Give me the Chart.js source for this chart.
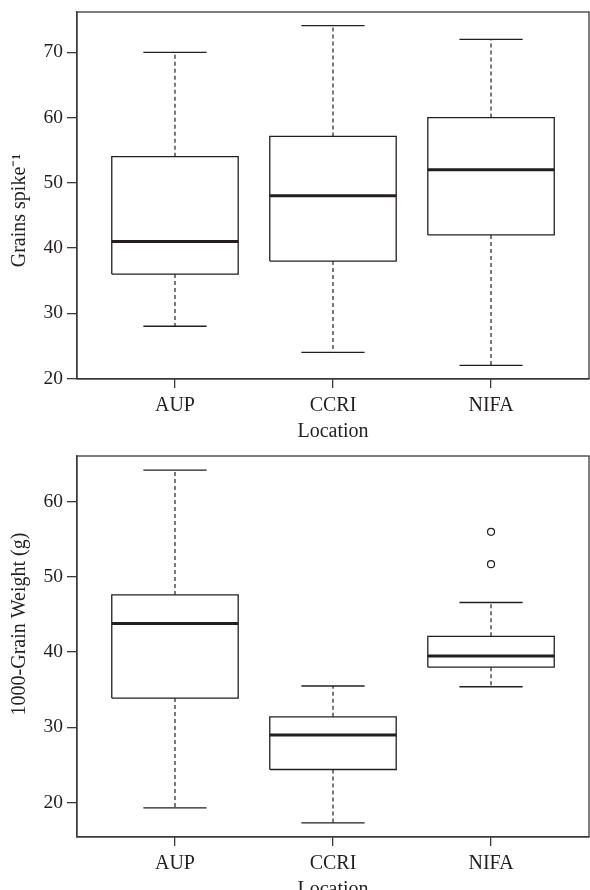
<!DOCTYPE html>
<html>
<head>
<meta charset="utf-8">
<script src="https://cdn.jsdelivr.net/npm/chart.js@4.4.1/dist/chart.umd.min.js"></script>
<style>
  html, body { margin: 0; padding: 0; background: #fff; overflow: hidden; width: 590px; height: 890px; }
  .wrap { position: absolute; left: 0; width: 590px; }
  #wrap1 { top: 0; height: 448px; }
  #wrap2 { top: 448px; height: 458px; }
</style>
</head>
<body>
<div class="wrap" id="wrap1"><canvas id="grains"></canvas></div>
<div class="wrap" id="wrap2"><canvas id="weight"></canvas></div>
<script>
const locations = ['AUP', 'CCRI', 'NIFA'];

// grains per spike
const grainsMin = [28, 24, 22];
const grainsQ1 = [36, 38, 42];
const grainsMedian = [41, 48, 52];
const grainsQ3 = [54, 57.1, 60];
const grainsMax = [70, 74.1, 72];
const grainsOutliers = [[], [], []];
const grainsTicks = [20, 30, 40, 50, 60, 70];

// 1000-grain weight (g)
const weightMin = [19.3, 17.3, 35.4];
const weightQ1 = [33.9, 24.4, 38.0];
const weightMedian = [43.8, 29.0, 39.5];
const weightQ3 = [47.6, 31.4, 42.1];
const weightMax = [64.2, 35.5, 46.6];
const weightOutliers = [[], [], [51.7, 56.0]];
const weightTicks = [20, 30, 40, 50, 60];

const ink = '#231f20';
const axisColor = '#3a3a3a';
const font = { family: "'Liberation Serif', 'Times New Roman', serif", size: 20 };
const tickFont = { family: "'Liberation Serif', 'Times New Roman', serif", size: 19.5 };


function segment(points, width, dash, order) {
  return {
    data: points.map(p => ({ x: p[0], y: p[1] })),
    showLine: true,
    borderColor: ink,
    borderWidth: width,
    borderDash: dash || [],
    pointRadius: 0,
    fill: false,
    order: order
  };
}


function boxDatasets(lo, q1, med, q3, hi, outliers) {
  const sets = [];
  locations.forEach((_, i) => {
    const x = i + 1;
    sets.push(segment([[x, q3[i]], [x, hi[i]]], 1.2, [4, 3], 2));
    sets.push(segment([[x, q1[i]], [x, lo[i]]], 1.2, [4, 3], 2));
    sets.push(segment([[x - 0.2, hi[i]], [x + 0.2, hi[i]]], 1.3, [], 2));
    sets.push(segment([[x - 0.2, lo[i]], [x + 0.2, lo[i]]], 1.3, [], 2));
    sets.push(segment([[x - 0.4, q1[i]], [x + 0.4, q1[i]], [x + 0.4, q3[i]], [x - 0.4, q3[i]], [x - 0.4, q1[i]]], 1.3, [], 1));
    sets.push(segment([[x - 0.4, med[i]], [x + 0.4, med[i]]], 3, [], 0));
  });
  const pts = [];
  outliers.forEach((vals, i) => {
    vals.forEach(v => pts.push({ x: i + 1, y: v }));
  });
  sets.push({
    data: pts,
    pointRadius: 3.5,
    pointBorderWidth: 1.2,
    pointBorderColor: ink,
    pointBackgroundColor: '#fff',
    showLine: false,
    order: 0
  });
  return sets;
}


const frame = {
  id: 'frame',
  afterDraw(chart) {
    const { ctx, chartArea: a } = chart;
    ctx.save();
    ctx.strokeStyle = axisColor;
    ctx.lineWidth = 1.3;
    ctx.strokeRect(a.left, a.top, a.right - a.left, a.bottom - a.top);
    ctx.restore();
  }
};


function makeChart(id, sets, yTicks, yTitle, padTop) {
  let all = [];
  sets.forEach(s => s.data.forEach(p => all.push(p.y)));
  const lo = Math.min(...all);
  const hi = Math.max(...all);
  const pad = (hi - lo) * 0.04;

  return new Chart(id, {
    type: 'scatter',
    data: { datasets: sets },
    plugins: [frame],
    options: {
      responsive: true,
      maintainAspectRatio: false,
      animation: false,
      layout: { autoPadding: false, padding: { top: padTop, right: 1, left: 0, bottom: 0 } },
      plugins: { legend: { display: false }, tooltip: { enabled: false } },
      scales: {
        x: {
          type: 'linear',
          min: 0.38,
          max: 3.62,
          afterBuildTicks: s => { s.ticks = locations.map((_, i) => ({ value: i + 1 })); },
          afterFit: s => { s.height = 69; s.paddingLeft = 0; s.paddingRight = 0; },
          grid: { drawOnChartArea: false, drawTicks: true, tickLength: 9, color: axisColor, lineWidth: 1.3 },
          border: { color: axisColor, width: 1.3 },
          ticks: { callback: v => locations[v - 1], font: font, color: ink, padding: 6, maxRotation: 0, autoSkip: false },
          title: { display: true, text: 'Location', font: font, color: ink, padding: { top: 0, bottom: 4 } }
        },
        y: {
          min: lo - pad,
          max: hi + pad,
          afterBuildTicks: s => { s.ticks = yTicks.map(v => ({ value: v })); },
          afterFit: s => { s.width = 77; s.paddingTop = 0; s.paddingBottom = 0; },
          grid: { drawOnChartArea: false, drawTicks: true, tickLength: 10, color: axisColor, lineWidth: 1.3 },
          border: { color: axisColor, width: 1.3 },
          ticks: { font: tickFont, color: ink, padding: 4 },
          title: { display: true, text: yTitle, font: font, color: ink, padding: { top: 8, bottom: 0 } }
        }
      }
    }
  });
}


// the y titles sit off-centre in the original, padded with spaces to match
makeChart('grains',
  boxDatasets(grainsMin, grainsQ1, grainsMedian, grainsQ3, grainsMax, grainsOutliers),
  grainsTicks, 'Grains spike\u207B\u00B9      ', 12);

makeChart('weight',
  boxDatasets(weightMin, weightQ1, weightMedian, weightQ3, weightMax, weightOutliers),
  weightTicks, '         1000-Grain Weight (g)', 8);
</script>
</body>
</html>
